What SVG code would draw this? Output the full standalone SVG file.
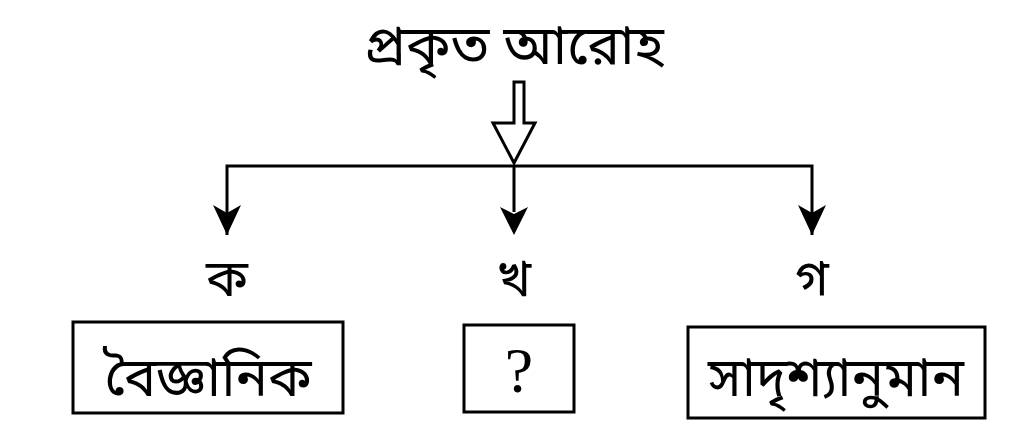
<svg xmlns="http://www.w3.org/2000/svg" width="1024" height="426" viewBox="0 0 1024 426">
<defs>
<style>
.t{font-family:"Noto Sans Bengali","Noto Serif Bengali","Lohit Bengali","Noto Sans",sans-serif;fill:#000;text-anchor:middle}
.box{fill:#fff;stroke:#000;stroke-width:3}
.ln{fill:none;stroke:#000;stroke-width:3}
</style>
</defs>
<rect width="1024" height="426" fill="#fff"/>
<g id="title"><text class="t" x="514" y="64" font-size="55">প্রকৃত আরোহ</text></g>
<g id="connectors">
<path class="ln" d="M514,82 L514,123 L493,123 L514,163 L535,123 L524,123 L524,82 Z" stroke-linejoin="miter"/>
<path class="ln" d="M227,235 L227,166 L812,166 L812,235"/>
<path d="M213,205 L227,235 L241,205 L227,213 Z" fill="#000"/>
<path d="M798,205 L812,235 L826,205 L812,213 Z" fill="#000"/>
<line class="ln" x1="514" y1="166" x2="514" y2="212"/>
<path d="M500,207 L514,235 L528,207 L514,214 Z" fill="#000"/>
</g>
<g id="label-ka"><text class="t" x="227" y="296" font-size="52">ক</text></g>
<g id="label-kha"><text class="t" x="514" y="296" font-size="52">খ</text></g>
<g id="label-ga"><text class="t" x="812" y="296" font-size="52">গ</text></g>
<g id="node-1"><rect class="box" x="73" y="322" width="270" height="91"/><text class="t" x="208" y="396" font-size="54">বৈজ্ঞানিক</text></g>
<g id="node-2"><rect class="box" x="464" y="325" width="110" height="87"/><text x="519" y="392" font-size="64" text-anchor="middle" font-family="Liberation Serif, serif">?</text></g>
<g id="node-3"><rect class="box" x="688" y="327" width="297" height="91"/><text class="t" x="836" y="396" font-size="54">সাদৃশ্যানুমান</text></g>
</svg>
